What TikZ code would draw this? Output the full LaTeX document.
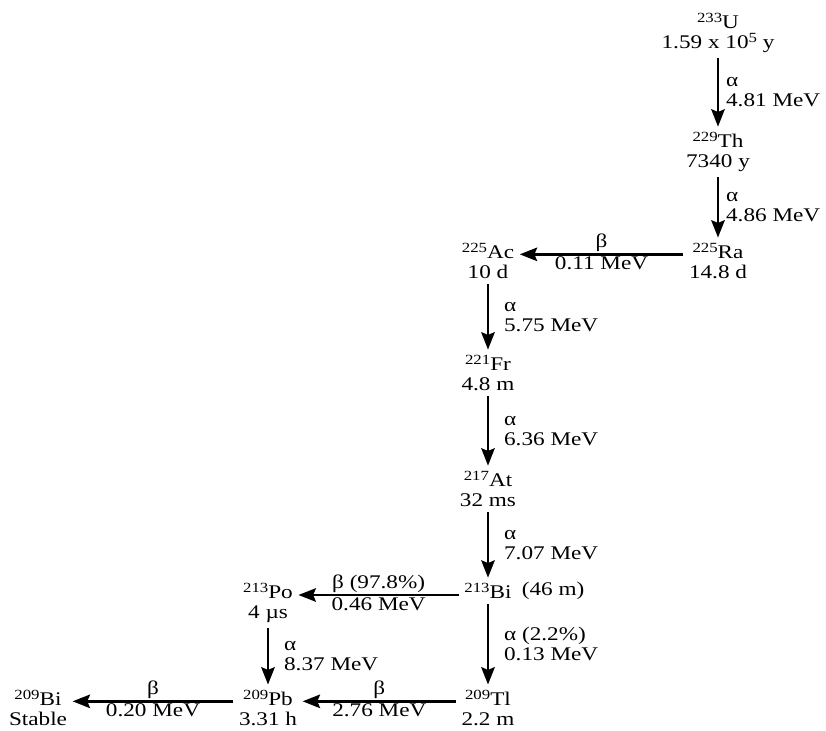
\documentclass[tikz,border=0pt]{standalone}
\usepackage{fontspec}
\setmainfont{Liberation Serif}[FakeStretch=1.2]
\usetikzlibrary{arrows.meta,positioning}

\newcommand{\nucl}[2]{\raisebox{4.5pt}{\fontsize{10.5}{10.5}\selectfont #1}#2}

\begin{document}
\begin{tikzpicture}[
  x=0.75pt, y=-0.75pt,
  font=\fontsize{14.5}{15}\selectfont,
  nuclide/.style={align=center,inner sep=1pt},
  decay/.style={-{Stealth[length=13pt,width=10pt,inset=2pt]},line width=2.2pt,
    shorten >=3pt,shorten <=3pt},
  alphalabel/.style={right,align=left,xshift=#1,inner sep=1pt},
  alphalabel/.default=10pt,
  betalabel/.style={inner sep=1pt}
]
\useasboundingbox (0,0) rectangle (826,731);
% nuclides
\node[nuclide] (U233) at (718,33) {\nucl{233}{U}\\1.59 x 10\raisebox{4.5pt}{\fontsize{10.5}{10.5}\selectfont 5} y};
\node[nuclide] (Th229) at (718,152) {\nucl{229}{Th}\\7340 y};
\node[nuclide] (Ra225) at (718,261) {\nucl{225}{Ra}\\14.8 d};
\node[nuclide] (Ac225) at (488,261) {\nucl{225}{Ac}\\10 d};
\node[nuclide] (Fr221) at (488,373) {\nucl{221}{Fr}\\4.8 m};
\node[nuclide] (At217) at (488,489) {\nucl{217}{At}\\32 ms};
\node[nuclide,label={[label distance=3pt]right:(46 m)}] (Bi213) at (488,591) {\nucl{213}{Bi}};
\node[nuclide] (Po213) at (268,603) {\nucl{213}{Po}\\4 µs};
\node[nuclide] (Tl209) at (488,708) {\nucl{209}{Tl}\\2.2 m};
\node[nuclide] (Pb209) at (268,708) {\nucl{209}{Pb}\\3.31 h};
\node[nuclide] (Bi209) at (38,708) {\nucl{209}{Bi}\\Stable};
% alpha decays
\draw[decay] (U233) -- node[alphalabel=4pt] {α\\4.81 MeV} (Th229);
\draw[decay] (Th229) -- node[alphalabel=4pt] {α\\4.86 MeV} (Ra225);
\draw[decay] (Ac225) -- node[alphalabel] {α\\5.75 MeV} (Fr221);
\draw[decay] (Fr221) -- node[alphalabel] {α\\6.36 MeV} (At217);
\draw[decay] (At217) -- node[alphalabel] {α\\7.07 MeV} (Bi213);
\draw[decay] (Bi213) -- node[alphalabel] {α (2.2\%)\\0.13 MeV} (Tl209);
\draw[decay] (Po213) -- node[alphalabel] {α\\8.37 MeV} (Pb209);
% beta decays
\draw[decay] ([yshift=5pt]Ra225.west) -- node[betalabel,above] {β}
  node[betalabel,below] {0.11 MeV} ([yshift=5pt]Ac225.east);
\draw[decay] ([yshift=-3pt]Bi213.west) -- node[betalabel,above] {β (97.8\%)}
  node[betalabel,below] {0.46 MeV} ([yshift=-3pt]Bi213.west -| Po213.east);
\draw[decay] ([yshift=5pt]Tl209.west) -- node[betalabel,above] {β}
  node[betalabel,below] {2.76 MeV} ([yshift=5pt]Pb209.east);
\draw[decay] ([yshift=5pt]Pb209.west) -- node[betalabel,above] {β}
  node[betalabel,below] {0.20 MeV} ([yshift=5pt]Bi209.east);
\end{tikzpicture}
\end{document}
